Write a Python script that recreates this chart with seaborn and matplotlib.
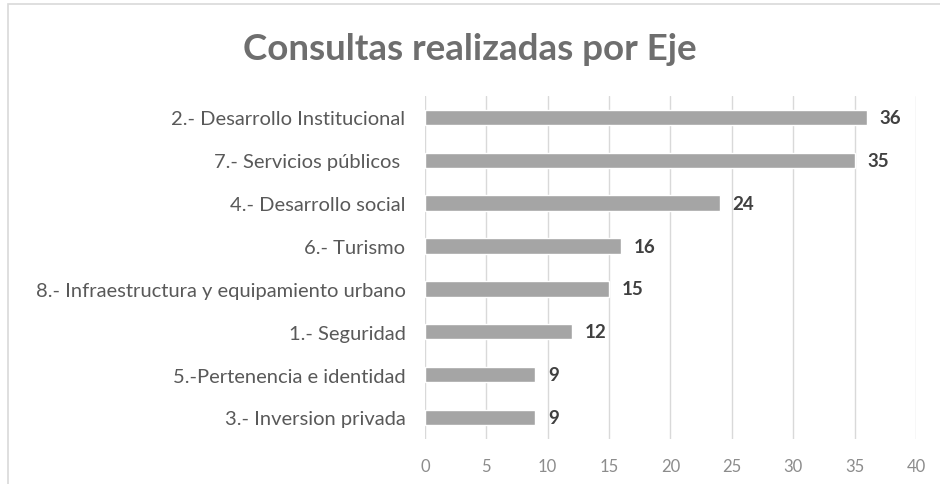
import matplotlib
matplotlib.use('Agg')
import matplotlib.pyplot as plt
import seaborn as sns
import pandas as pd
from matplotlib.patches import Rectangle

# --- data ---
categories = [
    "2.- Desarrollo Institucional",
    "7.- Servicios públicos ",
    "4.- Desarrollo social",
    "6.- Turismo",
    "8.- Infraestructura y equipamiento urbano",
    "1.- Seguridad",
    "5.-Pertenencia e identidad",
    "3.- Inversion privada",
]
consultas = [36, 35, 24, 16, 15, 12, 9, 9]
x_ticks = [0, 5, 10, 15, 20, 25, 30, 35, 40]

df = pd.DataFrame({"eje": categories, "consultas": consultas})

sns.set_theme(style="white")
plt.rcParams['font.family'] = ['Lato', 'DejaVu Sans']

fig = plt.figure(figsize=(9.4, 4.85), dpi=100)
ax = fig.add_axes([0.452, 0.093, 0.5225, 0.707])

sns.barplot(data=df, x="consultas", y="eje", color="#A5A5A5", width=0.36,
            saturation=1, ax=ax, orient="h")

ax.set_xlim(0, 40)
ax.set_xticks(x_ticks)
ax.set_xlabel("")
ax.set_ylabel("")
ax.grid(axis="x", color="#D9D9D9", linewidth=1)
ax.set_axisbelow(True)
for s in ax.spines.values():
    s.set_visible(False)
ax.tick_params(axis="x", labelsize=12, length=0, pad=14)
ax.tick_params(axis="y", labelsize=14.5, length=0, pad=14)
for lbl in ax.get_xticklabels():
    lbl.set_color("#8C8C8C")
for lbl in ax.get_yticklabels():
    lbl.set_color("#595959")

for container in ax.containers:
    ax.bar_label(container, padding=9, fontsize=13.5, fontweight="bold", color="#404040")

fig.text(0.5, 0.897, "Consultas realizadas por Eje", ha="center", va="center",
         fontsize=26.5, fontweight="bold", color="#6E6E6E")

# light frame around the chart area
fig.patches.append(Rectangle((0.009, -0.01), 1.0, 1.0, transform=fig.transFigure,
                             fill=False, edgecolor="#D9D9D9", linewidth=1.2))

fig.savefig("out.png", dpi=100, facecolor="white")
